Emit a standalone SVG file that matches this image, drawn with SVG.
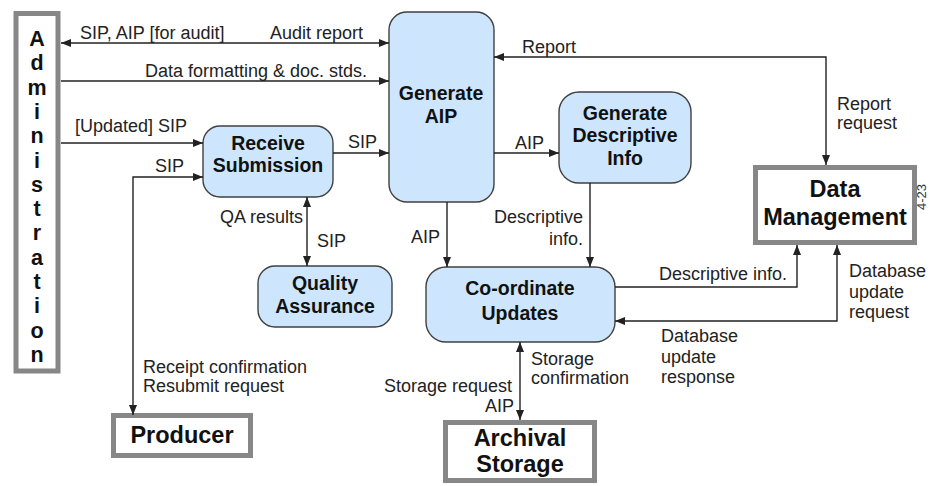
<svg xmlns="http://www.w3.org/2000/svg" width="930" height="486" viewBox="0 0 930 486">
<style>
.bg{fill:#ffffff}
.proc{fill:#cde6fd;stroke:#404040;stroke-width:1.4}
.ext{fill:#ffffff;stroke:#878787;stroke-width:5}
.pt{font-family:"Liberation Sans",Arial,sans-serif;font-weight:bold;font-size:19.5px;fill:#111;text-anchor:middle}
.et{font-family:"Liberation Sans",Arial,sans-serif;font-weight:bold;font-size:23.5px;fill:#111;text-anchor:middle}
.at{font-family:"Liberation Sans",Arial,sans-serif;font-weight:bold;font-size:21.5px;fill:#111;text-anchor:middle}
.lb{font-family:"Liberation Sans",Arial,sans-serif;font-size:18px;fill:#222}
.r{text-anchor:end}
.cn{fill:none;stroke:#222;stroke-width:1.4}
</style>
<defs>
<marker id="ah" viewBox="0 0 10 8" refX="10" refY="4" markerWidth="10" markerHeight="8" markerUnits="userSpaceOnUse" orient="auto-start-reverse">
<path d="M0,0 L10,4 L0,8 z" fill="#222"/>
</marker>
</defs>
<rect class="bg" x="0" y="0" width="930" height="486"/>

<g id="administration">
<rect class="ext" x="16" y="13.5" width="42" height="357.5"/>
<g class="at">
<text x="37" y="46">A</text>
<text x="37" y="70.3">d</text>
<text x="37" y="94.6">m</text>
<text x="37" y="118.9">i</text>
<text x="37" y="143.2">n</text>
<text x="37" y="167.5">i</text>
<text x="37" y="191.8">s</text>
<text x="37" y="216.1">t</text>
<text x="37" y="240.4">r</text>
<text x="37" y="264.7">a</text>
<text x="37" y="289">t</text>
<text x="37" y="313.3">i</text>
<text x="37" y="337.6">o</text>
<text x="37" y="361.9">n</text>
</g>
</g>

<g id="receive-submission">
<rect class="proc" x="203" y="126" width="130" height="71" rx="17"/>
<text class="pt" x="268" y="150">Receive</text>
<text class="pt" x="268" y="172">Submission</text>
</g>

<g id="generate-aip">
<rect class="proc" x="389" y="12" width="105" height="190" rx="18"/>
<text class="pt" x="441" y="100">Generate</text>
<text class="pt" x="441" y="123">AIP</text>
</g>

<g id="generate-descriptive-info">
<rect class="proc" x="559" y="92" width="132" height="91" rx="20"/>
<text class="pt" x="625" y="120">Generate</text>
<text class="pt" x="625" y="142">Descriptive</text>
<text class="pt" x="625" y="165">Info</text>
</g>

<g id="quality-assurance">
<rect class="proc" x="258" y="266" width="134" height="61" rx="17"/>
<text class="pt" x="325" y="290">Quality</text>
<text class="pt" x="325" y="313">Assurance</text>
</g>

<g id="coordinate-updates">
<rect class="proc" x="426" y="267" width="189" height="75" rx="20"/>
<text class="pt" x="520" y="295">Co-ordinate</text>
<text class="pt" x="520" y="320">Updates</text>
</g>

<g id="data-management">
<rect class="ext" x="755.5" y="167.5" width="159" height="75"/>
<text class="et" x="835" y="197">Data</text>
<text class="et" x="835" y="225">Management</text>
</g>

<g id="producer">
<rect class="ext" x="113.5" y="415.5" width="137" height="40"/>
<text class="et" x="182" y="443">Producer</text>
</g>

<g id="archival-storage">
<rect class="ext" x="445.5" y="422.5" width="149" height="58"/>
<text class="et" x="520" y="446">Archival</text>
<text class="et" x="520" y="472">Storage</text>
</g>

<g id="connectors">
<path class="cn" d="M61,43 H389" marker-start="url(#ah)" marker-end="url(#ah)"/>
<path class="cn" d="M61,81 H389" marker-end="url(#ah)"/>
<path class="cn" d="M61,143 H203" marker-end="url(#ah)"/>
<path class="cn" d="M203,177 H133 V415" marker-start="url(#ah)" marker-end="url(#ah)"/>
<path class="cn" d="M333,153 H389" marker-end="url(#ah)"/>
<path class="cn" d="M307,197 V266" marker-start="url(#ah)" marker-end="url(#ah)"/>
<path class="cn" d="M494,153 H559" marker-end="url(#ah)"/>
<path class="cn" d="M494,57 H826 V165" marker-start="url(#ah)" marker-end="url(#ah)"/>
<path class="cn" d="M447,202 V267" marker-end="url(#ah)"/>
<path class="cn" d="M590,183 V267" marker-end="url(#ah)"/>
<path class="cn" d="M615,287 H797 V245" marker-end="url(#ah)"/>
<path class="cn" d="M837,245 V321 H615" marker-start="url(#ah)" marker-end="url(#ah)"/>
<path class="cn" d="M520,342 V420" marker-start="url(#ah)" marker-end="url(#ah)"/>
</g>

<g id="labels">
<text class="lb" x="80" y="39">SIP, AIP [for audit]</text>
<text class="lb" x="270" y="39">Audit report</text>
<text class="lb" x="145" y="77">Data formatting &amp; doc. stds.</text>
<text class="lb" x="75" y="132">[Updated] SIP</text>
<text class="lb" x="155" y="172">SIP</text>
<text class="lb" x="348" y="148">SIP</text>
<text class="lb r" x="303" y="223">QA results</text>
<text class="lb" x="317" y="247">SIP</text>
<text class="lb" x="143" y="373">Receipt confirmation</text>
<text class="lb" x="143" y="392">Resubmit request</text>
<text class="lb" x="522" y="53">Report</text>
<text class="lb" x="837" y="110">Report</text>
<text class="lb" x="837" y="129">request</text>
<text class="lb" x="515" y="149">AIP</text>
<text class="lb r" x="440" y="243">AIP</text>
<text class="lb r" x="583" y="223">Descriptive</text>
<text class="lb r" x="583" y="245">info.</text>
<text class="lb" x="659" y="280">Descriptive info.</text>
<text class="lb" x="849" y="277">Database</text>
<text class="lb" x="849" y="298">update</text>
<text class="lb" x="849" y="318">request</text>
<text class="lb" x="661" y="342">Database</text>
<text class="lb" x="661" y="363">update</text>
<text class="lb" x="661" y="383">response</text>
<text class="lb" x="531" y="365">Storage</text>
<text class="lb" x="531" y="384">confirmation</text>
<text class="lb r" x="512" y="392">Storage request</text>
<text class="lb r" x="514" y="412">AIP</text>
<text font-family="Liberation Sans, Arial, sans-serif" font-size="13" fill="#333" transform="translate(926,210) rotate(-90)">4-23</text>
</g>
</svg>
